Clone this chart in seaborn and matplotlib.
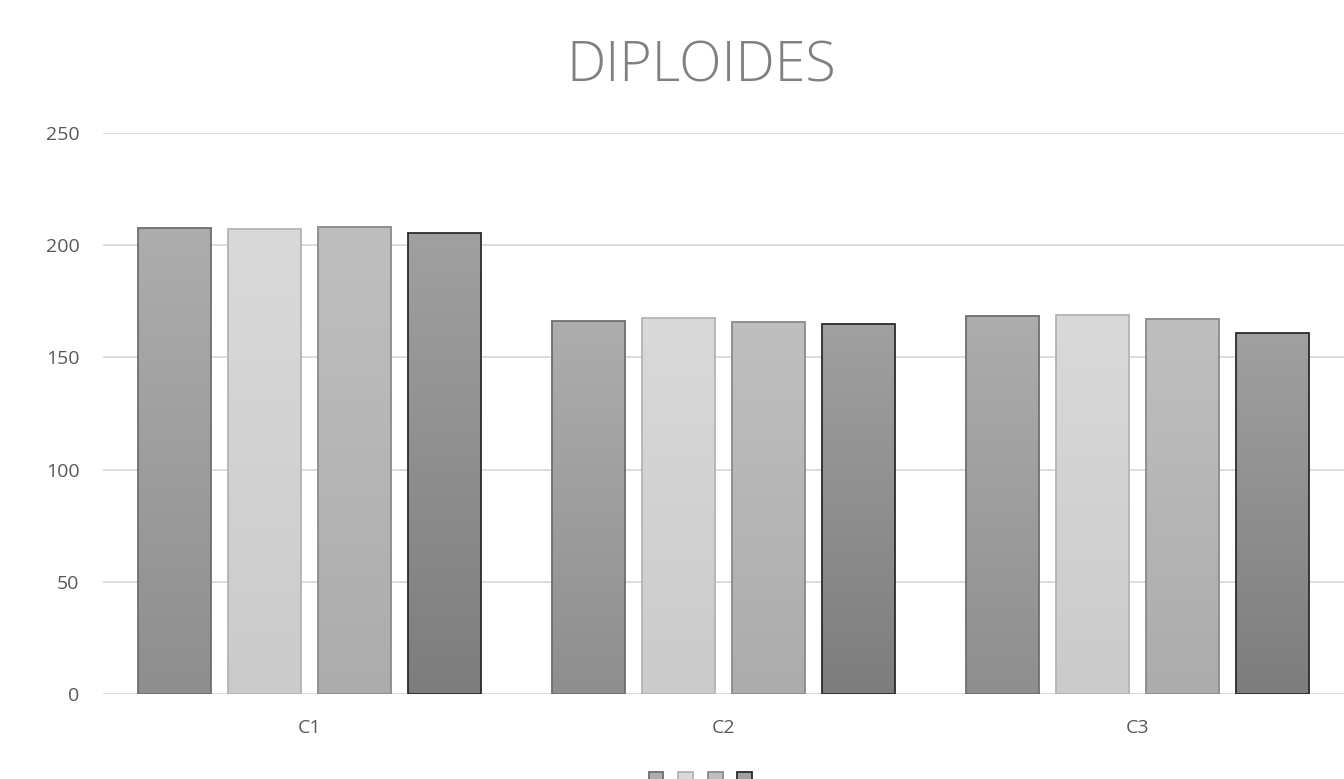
import numpy as np
import pandas as pd
import matplotlib
matplotlib.use("Agg")
import matplotlib.pyplot as plt
import seaborn as sns
from matplotlib.colors import LinearSegmentedColormap
from matplotlib.patches import Rectangle

# data
categories = ["C1", "C2", "C3"]
series = ["S1", "S2", "S3", "S4"]
s1 = [207.6, 166.3, 168.5]
s2 = [207.2, 167.5, 169.0]
s3 = [207.9, 165.8, 167.0]
s4 = [205.4, 165.0, 160.8]

# gradient (top, bottom) and edge colour per series
tops = ["#adadad", "#d9d9d9", "#bfbfbf", "#a0a0a0"]
bottoms = ["#8e8e8e", "#cbcbcb", "#acacac", "#7d7d7d"]
edges = ["#6e6e6e", "#b3b3b3", "#8a8a8a", "#2b2b2b"]

rows = []
for name, vals in zip(series, [s1, s2, s3, s4]):
    for cat, v in zip(categories, vals):
        rows.append({"cat": cat, "serie": name, "val": v})
df = pd.DataFrame(rows)

sns.set_style("white")
plt.rcParams['font.family'] = ['Open Sans', 'DejaVu Sans']

fig = plt.figure(figsize=(13.44, 7.79), dpi=100)
ax = fig.add_axes([103 / 1344, 1 - 694 / 779, 1 - 103 / 1344, (694 - 133) / 779])

sns.barplot(data=df, x="cat", y="val", hue="serie", order=categories, hue_order=series,
            width=0.87, gap=0.19, palette=tops, ax=ax, legend=False, errorbar=None)

# gradient fill for each bar
for k, cont in enumerate(ax.containers):
    cmap = LinearSegmentedColormap.from_list("g%d" % k, [bottoms[k], tops[k]])
    for p in cont.patches:
        x0, w, h = p.get_x(), p.get_width(), p.get_height()
        grad = np.linspace(0, 1, 256).reshape(-1, 1)
        im = ax.imshow(grad, cmap=cmap, origin="lower", extent=[x0, x0 + w, 0, h],
                       aspect="auto", zorder=1.5)
        im.set_clip_path(p)
        p.set_facecolor("none")
        p.set_edgecolor(edges[k])
        p.set_linewidth(1.3)
        p.set_zorder(2)

ax.set_xlim(-0.5, 2.5)
ax.set_ylim(0, 250)
ax.set_yticks([0, 50, 100, 150, 200, 250])
ax.yaxis.grid(True, color="#d9d9d9", linewidth=1.3)
ax.set_axisbelow(True)
sns.despine(ax=ax, left=True, bottom=True)
ax.tick_params(axis="both", length=0, labelsize=14, labelcolor="#595959")
ax.tick_params(axis="y", pad=17)
ax.tick_params(axis="x", pad=18)
ax.set_xlabel("")
ax.set_ylabel("")

fig.text(701 / 1344, 1 - 82 / 779, "DIPLOIDES", ha="center", va="baseline",
         fontsize=40, color="#808080", fontweight="light")

# legend: four swatches, no labels
handles = [Rectangle((0, 0), 1, 1, facecolor=tops[k], edgecolor=edges[k], linewidth=1.3)
           for k in range(4)]
fig.legend(handles, [" ", " ", " ", " "], ncol=4, loc="center",
           bbox_to_anchor=(703 / 1344, 1 - 781 / 779), frameon=False, fontsize=14,
           handlelength=0.76, handleheight=0.76, handletextpad=0, columnspacing=0.5,
           borderpad=0.0)

fig.savefig("out.png", dpi=100)
